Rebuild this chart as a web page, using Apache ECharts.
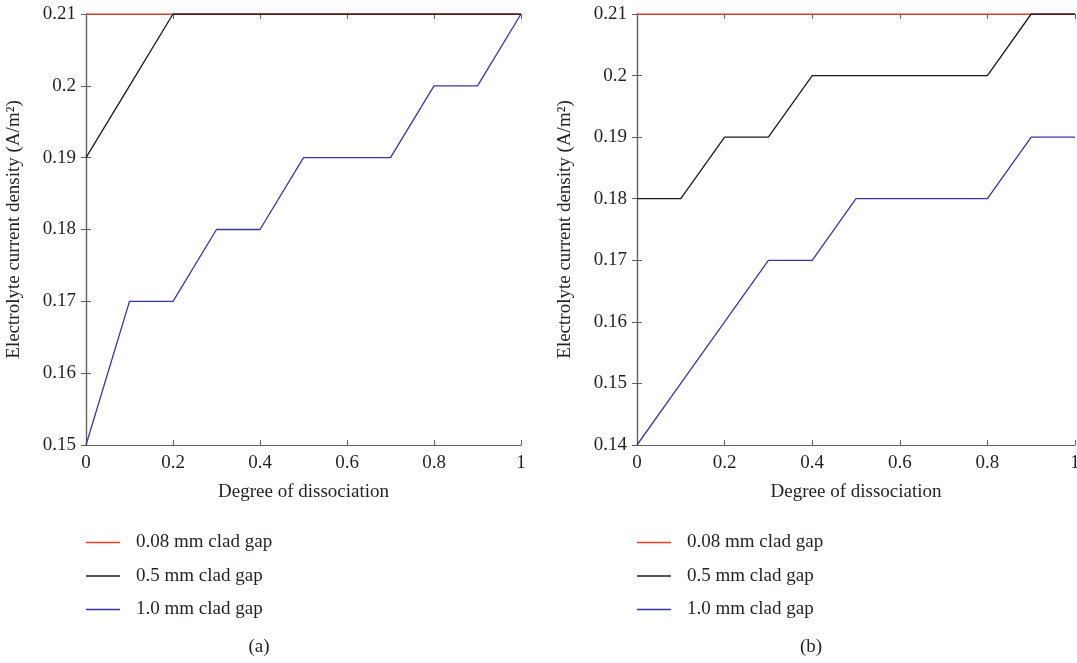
<!DOCTYPE html>
<html><head><meta charset="utf-8">
<script src="https://cdn.jsdelivr.net/npm/echarts@6/dist/echarts.min.js"></script>
<style>html,body{margin:0;padding:0;background:#fff}#c{width:1077px;height:663px}</style>
</head><body><div id="c"></div>
<script>
const xValues = [0, 0.1, 0.2, 0.3, 0.4, 0.5, 0.6, 0.7, 0.8, 0.9, 1.0];
const seriesNames = ['0.08 mm clad gap', '0.5 mm clad gap', '1.0 mm clad gap'];
// panel (a)
const a_gap008 = [0.21, 0.21, 0.21, 0.21, 0.21, 0.21, 0.21, 0.21, 0.21, 0.21, 0.21];
const a_gap05  = [0.19, 0.20, 0.21, 0.21, 0.21, 0.21, 0.21, 0.21, 0.21, 0.21, 0.21];
const a_gap10  = [0.15, 0.17, 0.17, 0.18, 0.18, 0.19, 0.19, 0.19, 0.20, 0.20, 0.21];
// panel (b)
const b_gap008 = [0.21, 0.21, 0.21, 0.21, 0.21, 0.21, 0.21, 0.21, 0.21, 0.21, 0.21];
const b_gap05  = [0.18, 0.18, 0.19, 0.19, 0.20, 0.20, 0.20, 0.20, 0.20, 0.21, 0.21];
const b_gap10  = [0.14, 0.15, 0.16, 0.17, 0.17, 0.18, 0.18, 0.18, 0.18, 0.19, 0.19];
const yRangeA = [0.15, 0.21];
const yRangeB = [0.14, 0.21];
const xTitle = 'Degree of dissociation';
const yTitle = 'Electrolyte current density (A/m\u00B2)';
const panelLabels = ['(a)', '(b)'];

const FONT = '"Liberation Serif", "DejaVu Serif", serif';
const colors = ['#e8412b', '#1a1a1a', '#3b35a3'];
const axisColor = '#606060';
const textColor = '#231f20';
const FS = 19;

function fmt(v) { return String(parseFloat(v.toFixed(4))); }
const pair = (arr) => xValues.map((x, i) => [x, arr[i]]);

const grids = [
  { left: 86, right: 556, top: 14, bottom: 218, containLabel: false, outerBoundsMode: 'none' },
  { left: 637, right: 2, top: 14, bottom: 218, containLabel: false, outerBoundsMode: 'none' }
];

const xAxes = [], yAxes = [];
[0, 1].forEach(g => {
  xAxes.push({
    gridIndex: g, type: 'value', min: 0, max: 1, interval: 0.2, position: 'bottom',
    name: xTitle, nameLocation: 'middle', nameGap: 38,
    nameTextStyle: { fontFamily: FONT, fontSize: FS, color: textColor },
    axisLine: { show: true, lineStyle: { color: axisColor, width: 1.2 } },
    axisTick: { show: true, inside: true, length: 5, lineStyle: { color: axisColor } },
    axisLabel: { fontFamily: FONT, fontSize: FS, color: textColor, margin: 9, formatter: fmt },
    splitLine: { show: false }
  });
  xAxes.push({
    gridIndex: g, type: 'value', min: 0, max: 1, interval: 0.2, position: 'top',
    axisLine: { show: true, lineStyle: { color: axisColor, width: 1.2 } },
    axisTick: { show: true, inside: true, length: 5, lineStyle: { color: axisColor } },
    axisLabel: { show: false }, splitLine: { show: false }
  });
  const r = g === 0 ? yRangeA : yRangeB;
  yAxes.push({
    gridIndex: g, type: 'value', min: r[0], max: r[1], interval: 0.01, position: 'left',
    name: yTitle, nameLocation: 'middle', nameGap: 62,
    nameTextStyle: { fontFamily: FONT, fontSize: FS, color: textColor },
    axisLine: { show: true, lineStyle: { color: axisColor, width: 1.2 } },
    axisTick: { show: true, inside: true, length: 5, lineStyle: { color: axisColor } },
    axisLabel: { fontFamily: FONT, fontSize: FS, color: textColor, margin: 10, formatter: fmt },
    splitLine: { show: false }
  });
  yAxes.push({
    gridIndex: g, type: 'value', min: r[0], max: r[1], interval: 0.01, position: 'right',
    axisLine: { show: true, lineStyle: { color: axisColor, width: 1.2 } },
    axisTick: { show: true, inside: true, length: 5, lineStyle: { color: axisColor } },
    axisLabel: { show: false }, splitLine: { show: false }
  });
});

const panelData = [[a_gap008, a_gap05, a_gap10], [b_gap008, b_gap05, b_gap10]];
const series = [];
panelData.forEach((set, g) => {
  set.forEach((arr, k) => {
    series.push({
      type: 'line', name: seriesNames[k], xAxisIndex: g * 2, yAxisIndex: g * 2,
      data: pair(arr), symbol: 'none', silent: true, animation: false,
      lineStyle: { color: colors[k], width: 1.3 }, itemStyle: { color: colors[k] }
    });
  });
});

const legendBase = {
  orient: 'vertical', top: 533, padding: 0, itemWidth: 34, itemHeight: 18, itemGap: 14.5,
  data: seriesNames, selectedMode: false, icon: 'path://M0,0 L34,0 L34,1.6 L0,1.6 Z',
  textStyle: { fontFamily: FONT, fontSize: FS, color: textColor, lineHeight: 18, padding: [0, 0, 0, 11] }
};

const option = {
  backgroundColor: '#fff',
  animation: false,
  grid: grids,
  xAxis: xAxes,
  yAxis: yAxes,
  series: series,
  legend: [
    Object.assign({}, legendBase, { left: 86 }),
    Object.assign({}, legendBase, { left: 637 })
  ],
  title: [
    { text: panelLabels[0], left: 259, top: 638, padding: 0, textAlign: 'center',
      textStyle: { fontFamily: FONT, fontSize: 19, fontWeight: 'normal', color: textColor } },
    { text: panelLabels[1], left: 811, top: 638, padding: 0, textAlign: 'center',
      textStyle: { fontFamily: FONT, fontSize: 19, fontWeight: 'normal', color: textColor } }
  ]
};
const chart = echarts.init(document.getElementById('c'), null, { renderer: 'canvas' });
chart.setOption(option);
</script></body></html>
